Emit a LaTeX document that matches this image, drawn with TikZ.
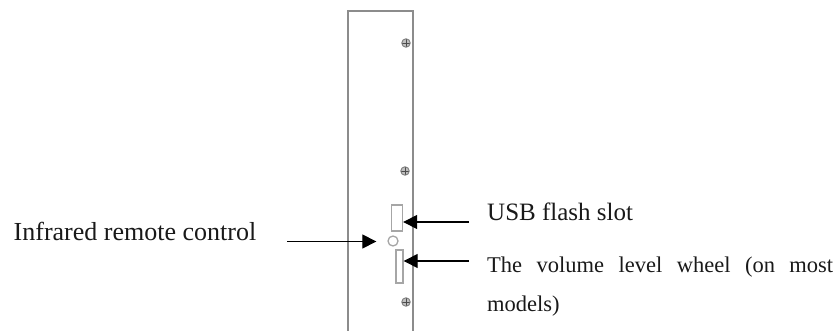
\documentclass[tikz,border=0pt]{standalone}
\usepackage{fontspec}
\setmainfont{Liberation Serif}
\usetikzlibrary{arrows.meta}
\tikzset{
 outline/.style={draw=black!45,line width=1.1pt},
 part/.style={draw=black!35,line width=1.3pt,fill=white,inner sep=0pt,minimum width=#1},
 lead/.style={draw=black,line width=1.1pt,-{Triangle[length=14pt,width=14pt]}},
 lab/.style={anchor=base west,inner sep=0pt,text=black!90},
 screw/.style={circle,draw=black!50,fill=black!25,line width=0.9pt,minimum size=8.5pt,inner sep=0pt,path picture={\draw[black!70,line width=0.6pt] (path picture bounding box.west)--(path picture bounding box.east) (path picture bounding box.north)--(path picture bounding box.south);}}
}
\begin{document}
\begin{tikzpicture}[x=1pt,y=-1pt]
\useasboundingbox (0,0) rectangle (840,331);
\draw[outline] (348,331) -- (348,11) -- (413,11) -- (413,331);
\node[screw] (s1) at (406,43) {};
\node[screw] (s2) at (405,171) {};
\node[screw] (s3) at (406,302) {};
\node[part=11pt,minimum height=26pt] (usb) at (397,218) {};
\node[part=9pt,circle,minimum size=10pt] (ir) at (393,241) {};
\node[part=7pt,minimum height=33pt] (wheel) at (399.5,266.5) {};
\coordinate (usbfrom) at (469,222);
\coordinate (wheelfrom) at (469,261);
\coordinate (irfrom) at (287,241.5);
\draw[lead] (usbfrom) -- (usb.east|-usbfrom);
\draw[lead] (wheelfrom) -- (wheel.east|-wheelfrom);
\draw[lead,shorten >=11pt] (irfrom) -- (ir.west|-irfrom);
\node[lab,font=\fontsize{26}{30}\selectfont] (t1) at (13.5,240) {Infrared remote control};
\node[lab,font=\fontsize{25}{30}\selectfont] (t2) at (487,220) {USB flash slot};
\node[lab,font=\fontsize{22.5}{30}\selectfont,text width=346pt] (t3) at (487,272) {The\hfill volume\hfill level\hfill wheel\hfill (on\hfill most};
\node[lab,font=\fontsize{22.5}{30}\selectfont] (t4) at (487,311) {models)};
\end{tikzpicture}
\end{document}
